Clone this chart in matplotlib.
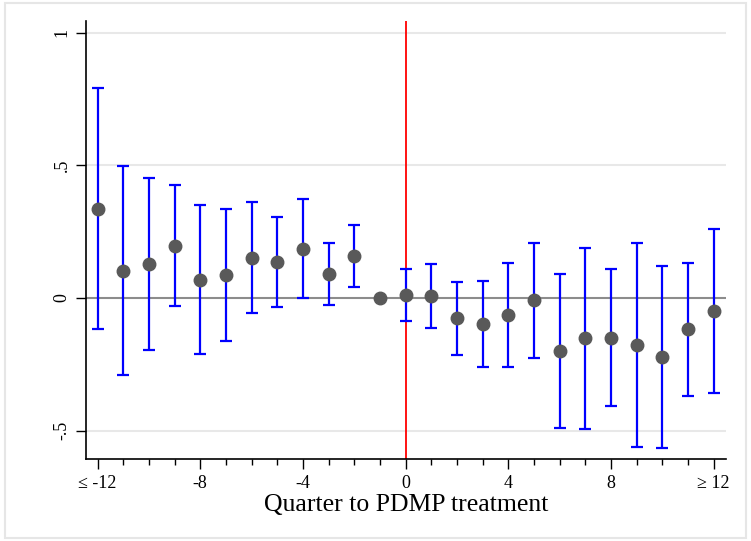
import numpy as np
from matplotlib import pyplot as plt
from matplotlib.patches import Rectangle
from matplotlib.ticker import FixedLocator

quarters = [-12, -11, -10, -9, -8, -7, -6, -5, -4, -3, -2, -1,
            0, 1, 2, 3, 4, 5, 6, 7, 8, 9, 10, 11, 12]
coefs = [0.337, 0.103, 0.127, 0.197, 0.069, 0.086, 0.152, 0.136, 0.186, 0.090, 0.158, 0.0,
         0.013, 0.008, -0.077, -0.098, -0.063, -0.009, -0.200, -0.152, -0.150, -0.177,
         -0.222, -0.117, -0.048]
ci_upper = [0.792, 0.496, 0.452, 0.425, 0.350, 0.334, 0.362, 0.305, 0.372, 0.208, 0.274, np.nan,
            0.109, 0.129, 0.059, 0.063, 0.133, 0.207, 0.090, 0.190, 0.110, 0.206,
            0.122, 0.133, 0.261]
ci_lower = [-0.117, -0.290, -0.197, -0.030, -0.210, -0.162, -0.057, -0.033, 0.000, -0.028, 0.043, np.nan,
            -0.085, -0.114, -0.214, -0.259, -0.260, -0.225, -0.489, -0.492, -0.407, -0.560,
            -0.564, -0.369, -0.358]
xtick_vals = [-12, -8, -4, 0, 4, 8, 12]
xtick_labels = ['\u2264 -12', '-8', '-4', '0', '4', '8', '\u2265 12']
ytick_vals = [-0.5, 0, 0.5, 1]
ytick_labels = ['-.5', '0', '.5', '1']

plt.rcParams['font.family'] = ['Liberation Serif', 'DejaVu Serif']

fig = plt.figure(figsize=(7.51, 5.41), dpi=100)
fig.patches.append(Rectangle((0.007, 0.006), 0.986, 0.988, transform=fig.transFigure,
                             fill=False, edgecolor='#e6e6e6', linewidth=1.5))
ax = fig.add_axes([0.1145, 0.151, 0.852, 0.810])

x = np.array(quarters, dtype=float)
y = np.array(coefs)
hi = np.array(ci_upper)
lo = np.array(ci_lower)
mask = ~np.isnan(hi)

for v in [-0.5, 0.5, 1]:
    ax.axhline(v, color='#e8e8e8', linewidth=1.5, zorder=0)
ax.axhline(0, color='#8c8c8c', linewidth=1.5, zorder=1)
ax.axvline(0, color='red', linewidth=1.3, zorder=2)

ax.errorbar(x[mask], (hi[mask] + lo[mask]) / 2, yerr=(hi[mask] - lo[mask]) / 2,
            fmt='none', ecolor='#0000ff', elinewidth=1.6, capsize=4.5, capthick=1.6, zorder=3)
ax.plot(x, y, 'o', color='#595959', markersize=9, zorder=4)

ax.set_xlim(-12.45, 12.48)
ax.set_ylim(-0.608, 1.044)
ax.set_xticks(xtick_vals)
ax.set_xticklabels(xtick_labels)
ax.xaxis.set_minor_locator(FixedLocator(quarters))
ax.set_yticks(ytick_vals)
ax.set_yticklabels(ytick_labels, rotation=90, va='center')
ax.tick_params(axis='both', which='major', length=7, width=1, labelsize=13, color='black')
ax.tick_params(axis='x', which='minor', length=4, width=1)
ax.tick_params(axis='x', pad=4)
ax.tick_params(axis='y', pad=4)

for s in ['top', 'right']:
    ax.spines[s].set_visible(False)
for s in ['left', 'bottom']:
    ax.spines[s].set_linewidth(1.2)

ax.set_xlabel('Quarter to PDMP treatment', fontsize=18.5, labelpad=2)

fig.savefig('out.png', dpi=100)
